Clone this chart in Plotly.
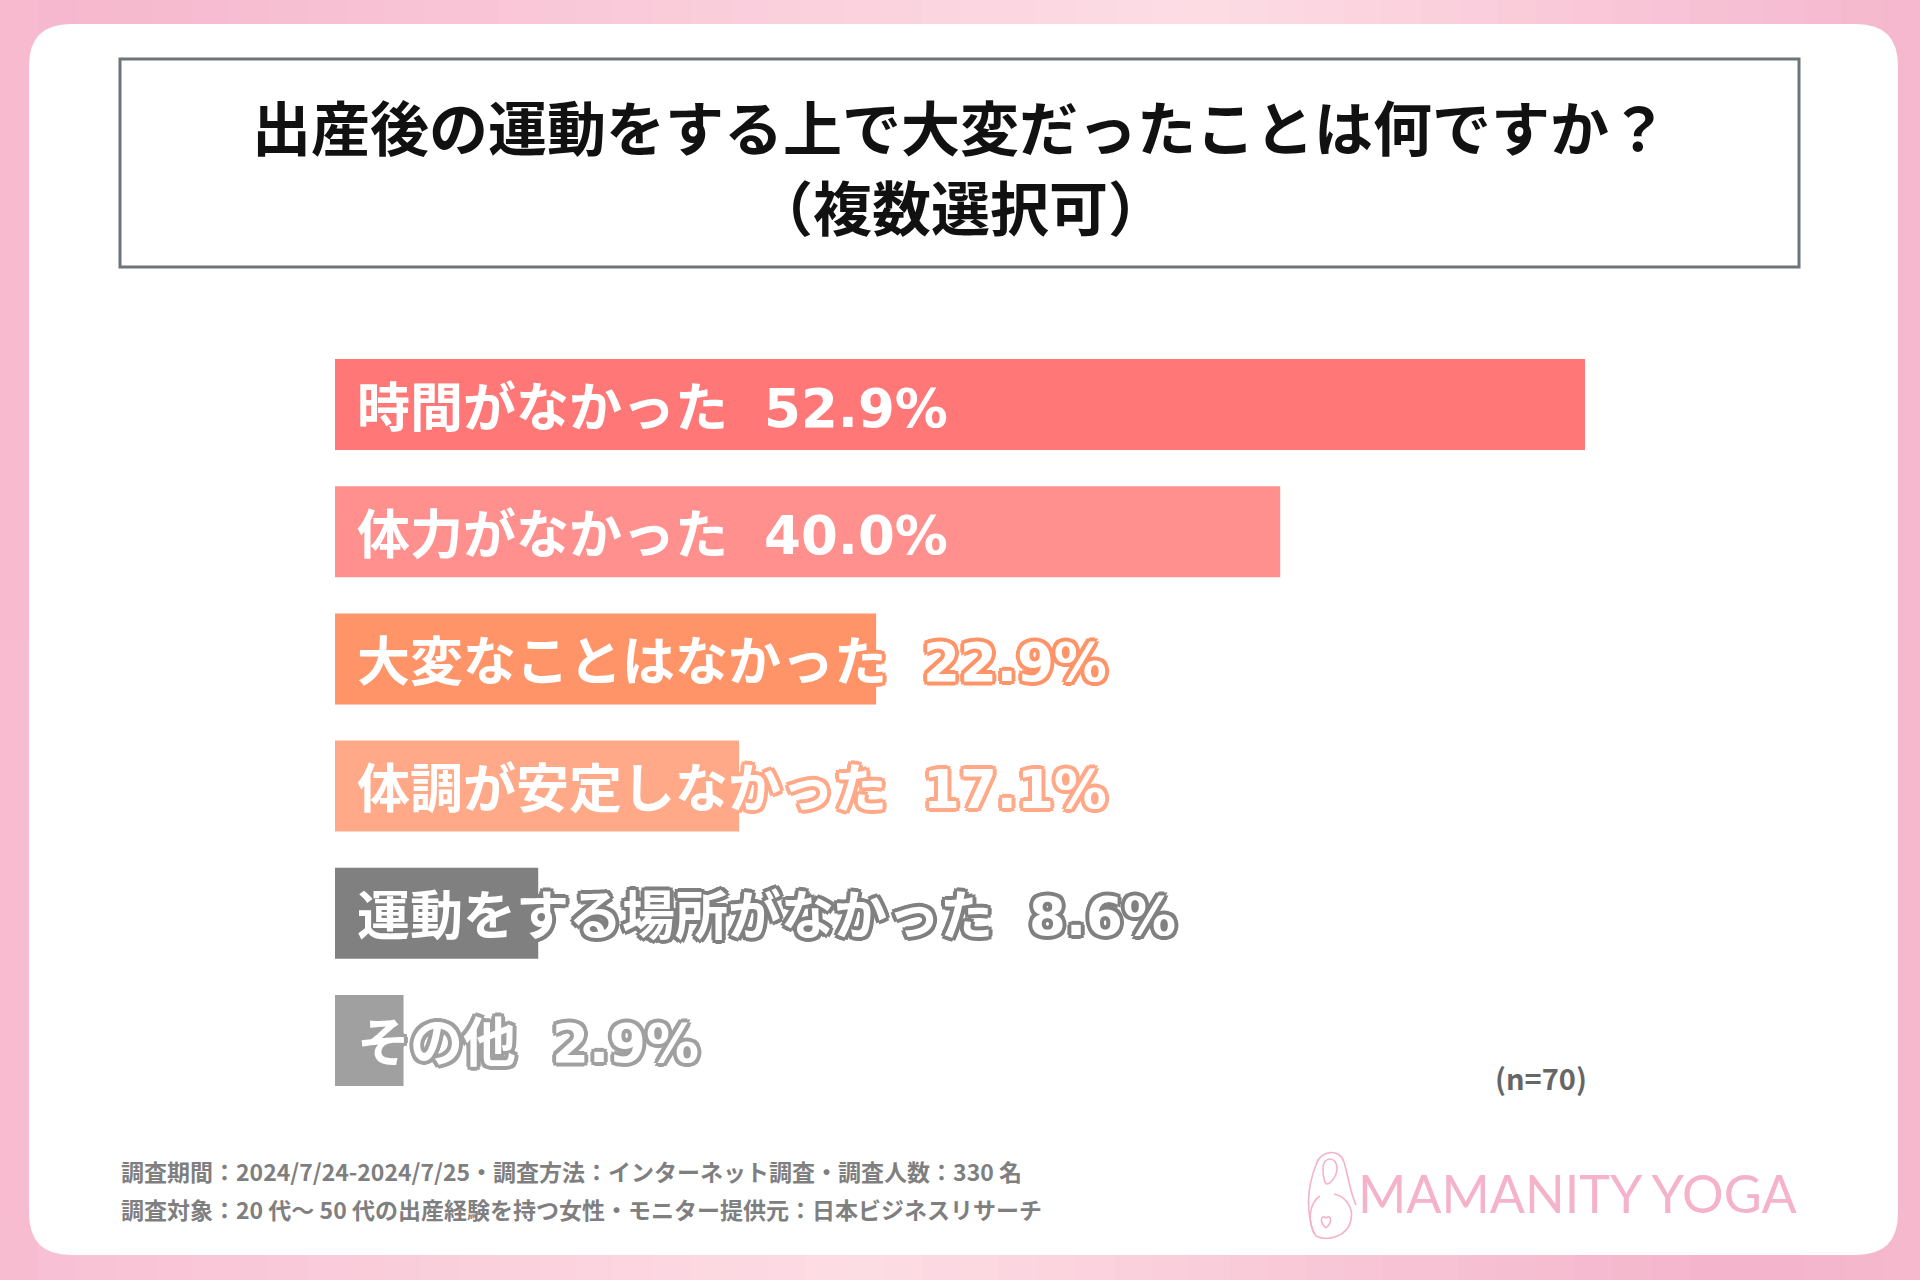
import plotly.graph_objects as go

# survey data
labels = ["時間がなかった", "体力がなかった", "大変なことはなかった",
          "体調が安定しなかった", "運動をする場所がなかった", "その他"]
values = [52.9, 40.0, 22.9, 17.1, 8.6, 2.9]
bar_colors = ["#FF7777", "#FF908E", "#FF9468", "#FFA988", "#808080", "#A0A0A0"]

title_lines = ["出産後の運動をする上で大変だったことは何ですか？", "（複数選択可）"]
n_text = "(n=70)"
footer_lines = [
    "調査期間：2024/7/24-2024/7/25・調査方法：インターネット調査・調査人数：330 名",
    "調査対象：20 代～ 50 代の出産経験を持つ女性・モニター提供元：日本ビジネスリサーチ",
]
logo_text = "MAMANITY YOGA"

W, H = 1920, 1280
FONT = "Noto Sans CJK JP"
NUM_FONT = "DejaVu Sans"


def px(x):
    return x / W


def py(y):
    return 1 - y / H


def rounded_rect(x0, y0, x1, y1, r):
    # path in paper coords from pixel box
    rx, ry = r / W, r / H
    a, b, c, d = px(x0), py(y1), px(x1), py(y0)
    return (f"M {a+rx},{b} L {c-rx},{b} Q {c},{b} {c},{b+ry} "
            f"L {c},{d-ry} Q {c},{d} {c-rx},{d} L {a+rx},{d} "
            f"Q {a},{d} {a},{d-ry} L {a},{b+ry} Q {a},{b} {a+rx},{b} Z")


def stroke(col, w=4):
    d = 3
    offs = [(w, 0), (-w, 0), (0, w), (0, -w), (d, d), (-d, -d), (d, -d), (-d, d)]
    return ", ".join(f"{dx}px {dy}px 0 {col}" for dx, dy in offs)


def hex2rgb(h):
    return tuple(int(h[i:i + 2], 16) for i in (1, 3, 5))


def blend(stops, t):
    for (t0, c0), (t1, c1) in zip(stops, stops[1:]):
        if t0 <= t <= t1:
            f = (t - t0) / (t1 - t0)
            a, b = hex2rgb(c0), hex2rgb(c1)
            return "rgb(%d,%d,%d)" % tuple(round(a[k] + (b[k] - a[k]) * f) for k in range(3))
    return stops[-1][1]


fig = go.Figure()

fig.add_trace(go.Bar(
    x=values, y=labels, orientation="h",
    marker=dict(color=bar_colors, line=dict(width=0)),
    width=0.715, hoverinfo="skip", showlegend=False,
))

shapes = []
# pink background bands (soft gradient), edges kept equal so the sides match
top_stops = [(0, "#F7BACF"), (0.04, "#F6B8CE"), (0.62, "#FDDDE5"), (0.96, "#F6BAD0"), (1, "#F5B8CD")]
bot_stops = [(0, "#F7BACF"), (0.04, "#F8C2D5"), (0.45, "#FDDDE4"), (0.9, "#F4B4CB"), (1, "#F5B8CD")]
nstrip = 50
for i in range(nstrip):
    t0, t1 = i / nstrip, (i + 1) / nstrip
    tm = (t0 + t1) / 2
    shapes.append(dict(type="rect", xref="paper", yref="paper", layer="below",
                       x0=t0, x1=t1 + 0.002, y0=0.5, y1=1,
                       fillcolor=blend(top_stops, tm), line=dict(width=0)))
    shapes.append(dict(type="rect", xref="paper", yref="paper", layer="below",
                       x0=t0, x1=t1 + 0.002, y0=0, y1=0.5,
                       fillcolor=blend(bot_stops, tm), line=dict(width=0)))
# white card
shapes.append(dict(type="path", xref="paper", yref="paper", layer="below",
                   path=rounded_rect(29, 24, 1898, 1255, 42),
                   fillcolor="white", line=dict(width=0)))
# title box
shapes.append(dict(type="rect", xref="paper", yref="paper",
                   x0=px(120), x1=px(1799), y0=py(267), y1=py(59),
                   line=dict(color="#6E757A", width=3), fillcolor="rgba(0,0,0,0)"))

# rough logo figure
pink = "#F5B3CB"
icon_paths = [
    # hair outline
    "M 1314,1234 C 1304,1205 1310,1180 1316,1165 C 1320,1150 1340,1148 1344,1162 "
    "C 1348,1175 1350,1192 1356,1205",
    # face
    "M 1323,1168 C 1323,1156 1337,1156 1337,1168 C 1337,1178 1329,1184 1327,1184 "
    "C 1325,1184 1323,1178 1323,1168",
    # body and belly
    "M 1320,1196 C 1310,1202 1306,1222 1316,1236 C 1328,1242 1348,1236 1351,1220 "
    "C 1354,1206 1344,1196 1334,1194",
    # heart
    "M 1326,1228 C 1319,1222 1321,1214 1326,1218 C 1331,1214 1333,1222 1326,1228",
]
for p in icon_paths:
    toks = p.replace(",", " ").split()
    out = []
    i = 0
    while i < len(toks):
        t = toks[i]
        if t.isalpha():
            out.append(t)
            i += 1
        else:
            out.append(f"{px(float(toks[i]))},{py(float(toks[i+1]))}")
            i += 2
    shapes.append(dict(type="path", xref="paper", yref="paper", path=" ".join(out),
                       line=dict(color=pink, width=1.6)))

annotations = []
for lab, val, col in zip(labels, values, bar_colors):
    annotations.append(dict(
        x=0, y=lab, xref="x", yref="y", xanchor="left", yanchor="middle",
        xshift=20, yshift=1, showarrow=False,
        text=(f"{lab}\u00a0\u00a0\u00a0"
              f"<span style='font-family:{NUM_FONT}'>{val:.1f}%</span>"),
        font=dict(family=FONT, size=53, color="white", weight="bold",
                  shadow=stroke(col)),
    ))

for i, line in enumerate(title_lines):
    annotations.append(dict(
        x=px(960), y=py(125 + i * 80), xref="paper", yref="paper",
        xanchor="center", yanchor="middle", showarrow=False, text=line,
        font=dict(family=FONT, size=59, color="#111111", weight="bold"),
    ))
annotations.append(dict(
    x=px(1589), y=py(1077), xref="paper", yref="paper", xanchor="right", yanchor="middle",
    showarrow=False, text=n_text,
    font=dict(family=FONT, size=29, color="#666666", weight="bold"),
))
for i, line in enumerate(footer_lines):
    annotations.append(dict(
        x=px(119), y=py(1171 + i * 38), xref="paper", yref="paper",
        xanchor="left", yanchor="middle", showarrow=False, text=line,
        font=dict(family=FONT, size=23, color="#7F7F7F", weight="bold"),
    ))
annotations.append(dict(
    x=px(1799), y=py(1193), xref="paper", yref="paper", xanchor="right", yanchor="middle",
    showarrow=False, text=logo_text,
    font=dict(family="Lato", size=52, color=pink),
))

fig.update_layout(
    width=W, height=H,
    margin=dict(l=0, r=0, t=0, b=0),
    paper_bgcolor="#F7BFD3", plot_bgcolor="rgba(0,0,0,0)",
    xaxis=dict(domain=[px(335), px(335 + 60 * 23.63)], range=[0, 60],
               visible=False, fixedrange=True),
    yaxis=dict(domain=[py(1104), py(341)], range=[5.5, -0.5], type="category",
               visible=False, fixedrange=True),
    shapes=shapes, annotations=annotations,
    bargap=0.28,
)

fig.write_html("out.html", config={"displayModeBar": False},
               post_script="document.body.style.margin='0';")
